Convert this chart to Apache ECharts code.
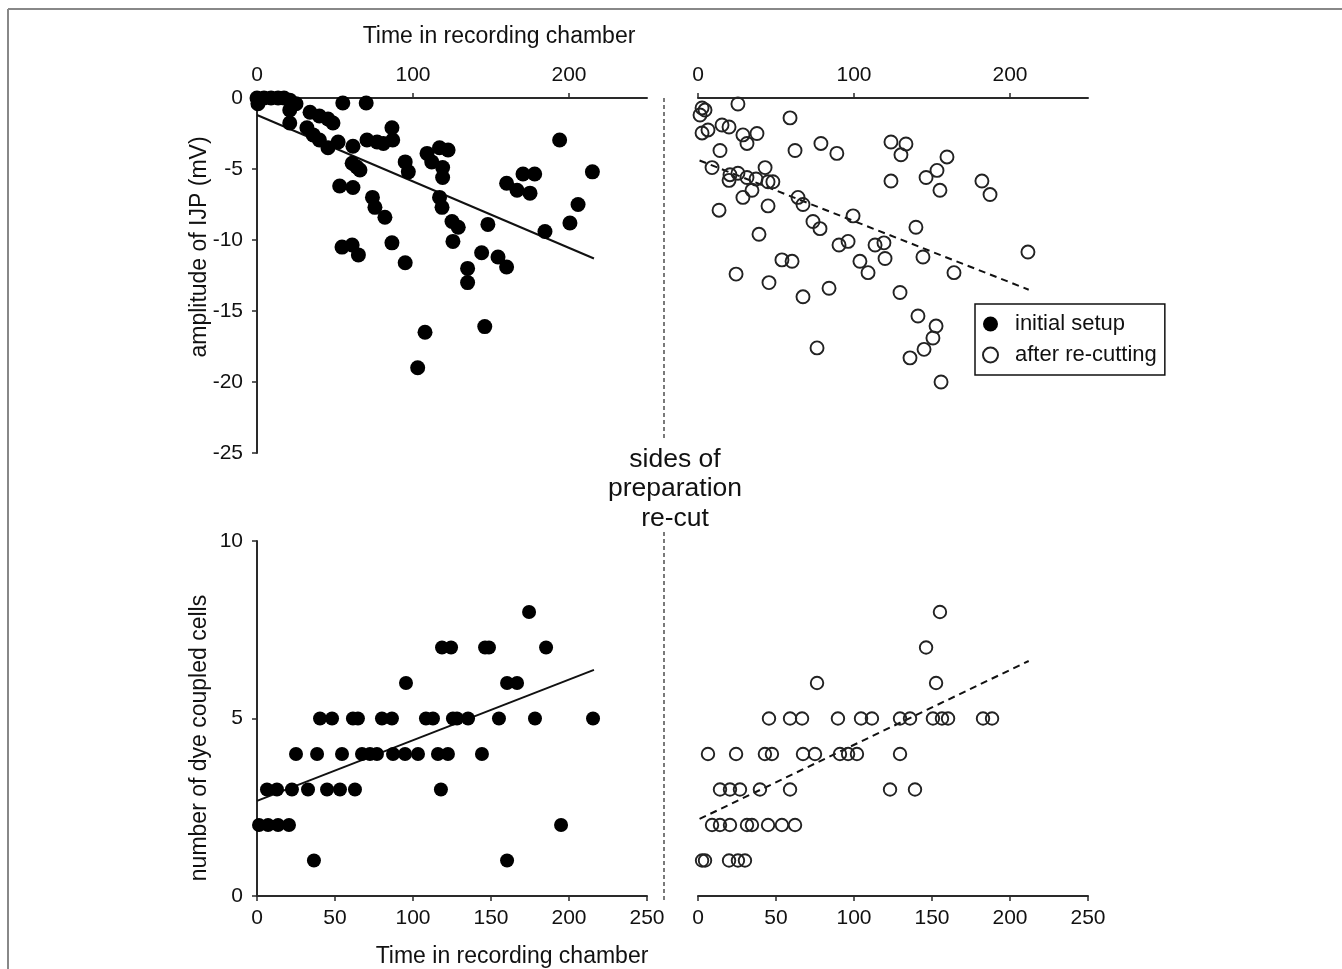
<!DOCTYPE html>
<html>
<head>
<meta charset="utf-8">
<script src="https://cdn.jsdelivr.net/npm/echarts@6/dist/echarts.min.js"></script>
<style>
html,body{margin:0;padding:0;background:#fff;}
#chart{width:1342px;height:969px;}
</style>
</head>
<body>
<div id="chart"></div>
<script>
// ---- data (time in recording chamber, value) ----
const seriesNames = ['initial setup', 'after re-cutting'];
const xTicksTop = [0, 100, 200];

const ijpInitial = [
  [0,0],[0.6,-0.4],[4.5,0],[9,0],[13.5,0],[17.3,0],[21,-0.15],[25,-0.4],[21,-0.85],[21,-1.76],
  [55,-0.35],[70,-0.35],[34,-1.0],[40,-1.27],[45.5,-1.48],[48.7,-1.76],[32,-2.1],[36,-2.6],[40,-2.96],[45.5,-3.5],
  [52,-3.1],[61.5,-3.4],[70.5,-2.96],[77,-3.1],[81,-3.2],[86.5,-2.1],[87,-2.96],[61,-4.6],[64,-4.86],[66,-5.07],
  [53,-6.2],[61.5,-6.3],[74,-7.0],[75.6,-7.7],[82,-8.4],[86.5,-10.2],[54.5,-10.5],[61,-10.35],[65,-11.05],[95,-4.5],
  [97,-5.2],[95,-11.6],[109,-3.9],[112,-4.5],[117,-3.5],[122.5,-3.66],[119,-4.9],[119,-5.6],[117,-7.0],[118.6,-7.7],
  [125,-8.7],[129,-9.1],[125.6,-10.1],[148,-8.9],[144,-10.9],[154.5,-11.2],[160,-11.9],[135,-12.0],[135,-13.0],[194,-2.96],
  [215,-5.2],[160,-6.0],[166.7,-6.5],[170.5,-5.35],[178,-5.35],[175,-6.7],[184.6,-9.4],[200.6,-8.8],[205.8,-7.5],[107.7,-16.5],
  [103,-19.0],[146,-16.1]
];

const ijpRecut = [
  [4.5,-0.85],[1.3,-1.2],[2.6,-0.7],[25.6,-0.42],[59,-1.4],[2.6,-2.46],[6.4,-2.25],[15.4,-1.9],[19.9,-2.04],[28.8,-2.6],
  [31.4,-3.2],[37.8,-2.5],[14.1,-3.7],[62.2,-3.7],[78.8,-3.2],[89,-3.9],[9,-4.9],[20.5,-5.4],[25.6,-5.3],[19.9,-5.8],
  [31.4,-5.6],[37.2,-5.7],[43,-4.9],[44.9,-5.9],[48,-5.9],[34.6,-6.5],[28.8,-7.0],[44.9,-7.6],[13.5,-7.9],[64.1,-7.0],
  [67.3,-7.5],[73.7,-8.7],[78.2,-9.2],[99.4,-8.3],[90.4,-10.35],[96.2,-10.1],[39.1,-9.6],[53.8,-11.4],[60.3,-11.5],[103.8,-11.5],
  [109,-12.3],[113.5,-10.35],[24.4,-12.4],[45.5,-13.0],[67.3,-14.0],[84,-13.4],[123.7,-3.1],[133.3,-3.24],[130.1,-4.0],[159.6,-4.15],
  [123.7,-5.85],[146.2,-5.6],[153.2,-5.1],[155.1,-6.5],[182,-5.85],[187.2,-6.8],[139.7,-9.1],[119.2,-10.2],[119.9,-11.3],[144.2,-11.2],
  [164.1,-12.3],[211.5,-10.85],[129.5,-13.7],[141,-15.35],[152.6,-16.06],[150.6,-16.9],[144.9,-17.7],[135.9,-18.3],[155.8,-20.0],[76.3,-17.6]
];

const dyeInitial = [
  [36.5,1],[160.3,1],
  [1.3,2],[7.1,2],[13.5,2],[20.5,2],[194.9,2],
  [6.4,3],[12.8,3],[22.4,3],[32.7,3],[44.9,3],[53.2,3],[62.8,3],[117.9,3],
  [25,4],[38.5,4],[54.5,4],[67.3,4],[72.4,4],[76.9,4],[87.2,4],[94.9,4],[103.2,4],[116,4],[122.4,4],[144.2,4],
  [40.4,5],[48.1,5],[61.5,5],[64.7,5],[80.1,5],[86.5,5],[108.3,5],[112.8,5],[125.6,5],[128.2,5],[135.3,5],[155.1,5],[178.2,5],[215.4,5],
  [95.5,6],[160.3,6],[166.7,6],
  [118.6,7],[124.4,7],[146.2,7],[148.7,7],[185.3,7],
  [174.4,8]
];

const dyeRecut = [
  [2.6,1],[4.5,1],[19.9,1],[25.6,1],[30.1,1],
  [9,2],[14.1,2],[20.5,2],[31.4,2],[34.6,2],[44.9,2],[53.8,2],[62.2,2],
  [14.1,3],[20.5,3],[26.9,3],[39.7,3],[59,3],[123.1,3],[139.1,3],
  [6.4,4],[24.4,4],[42.9,4],[47.4,4],[67.3,4],[75,4],[91,4],[96.2,4],[101.9,4],[129.5,4],
  [45.5,5],[59,5],[66.7,5],[89.7,5],[104.5,5],[111.5,5],[129.5,5],[135.9,5],[150.6,5],[156.4,5],[160.3,5],[182.7,5],[188.5,5],
  [76.3,6],[152.6,6],
  [146.2,7],
  [155.1,8]
];

// regression lines (end points)
const ijpInitialFit = [[0,-1.2],[216,-11.3]];
const ijpRecutFit = [[1,-4.4],[212,-13.5]];
const dyeInitialFit = [[0,2.68],[216,6.37]];
const dyeRecutFit = [[1,2.17],[212,6.62]];

// ---- chart ----
const FONT = "'Liberation Sans', Arial, Helvetica, sans-serif";
const INK = '#111';
const AXIS = '#2a2a2a';

const chart = echarts.init(document.getElementById('chart'), null, {renderer: 'canvas'});

function xAxis(gridIndex, position, interval, custom) {
  const ax = {
    type: 'value', gridIndex, position, min: 0, max: 250, interval,
    axisLine: {show: true, onZero: false, lineStyle: {color: AXIS, width: 2}},
    axisTick: {show: true, length: 5, inside: false, lineStyle: {color: AXIS, width: 1.5}},
    axisLabel: {color: INK, fontSize: 21, fontFamily: FONT, margin: 12},
    splitLine: {show: false}
  };
  if (custom) {
    ax.axisTick.customValues = custom;
    ax.axisLabel.customValues = custom;
  }
  return ax;
}
function yAxis(gridIndex, min, max, interval, show) {
  return {
    type: 'value', gridIndex, min, max, interval, show,
    axisLine: {show: true, onZero: false, lineStyle: {color: AXIS, width: 2}},
    axisTick: {show: true, length: 5, lineStyle: {color: AXIS, width: 1.5}},
    axisLabel: {color: INK, fontSize: 21, fontFamily: FONT, margin: 14},
    splitLine: {show: false}
  };
}

const filled = {color: '#000', opacity: 1};
const hollow = {color: 'rgba(255,255,255,0)', borderColor: '#222', borderWidth: 1.9, opacity: 1};

function fit(data, xi, yi, dashed) {
  return {
    type: 'line', xAxisIndex: xi, yAxisIndex: yi, data, symbol: 'none', silent: true,
    lineStyle: {color: '#111', width: 2, type: dashed ? [7, 5] : 'solid'}, z: 3
  };
}

const option = {
  animation: false,
  backgroundColor: '#fff',
  grid: [
    {left: 257, top: 98, width: 390, height: 355},
    {left: 698, top: 98, width: 390, height: 355},
    {left: 257, top: 541, width: 390, height: 355},
    {left: 698, top: 541, width: 390, height: 355}
  ],
  xAxis: [
    xAxis(0, 'top', 100, xTicksTop),
    xAxis(1, 'top', 100, xTicksTop),
    xAxis(2, 'bottom', 50),
    xAxis(3, 'bottom', 50)
  ],
  yAxis: [
    yAxis(0, -25, 0, 5, true),
    yAxis(1, -25, 0, 5, false),
    yAxis(2, 0, 10, 5, true),
    yAxis(3, 0, 10, 5, false)
  ],
  legend: {
    data: seriesNames,
    orient: 'vertical',
    left: 975, top: 304,
    borderColor: '#111', borderWidth: 1.5, borderRadius: 0,
    padding: [9, 8, 9, 7],
    itemWidth: 15, itemHeight: 15, itemGap: 9,
    selectedMode: false,
    textStyle: {fontSize: 22, fontFamily: FONT, color: INK, padding: [0, 0, 0, 12]}
  },
  series: [
    {name: seriesNames[0], type: 'scatter', xAxisIndex: 0, yAxisIndex: 0, data: ijpInitial, symbolSize: 15, itemStyle: filled, z: 4},
    {name: seriesNames[1], type: 'scatter', xAxisIndex: 1, yAxisIndex: 1, data: ijpRecut, symbolSize: 13, itemStyle: hollow, z: 4},
    {name: seriesNames[0], type: 'scatter', xAxisIndex: 2, yAxisIndex: 2, data: dyeInitial, symbolSize: 14, itemStyle: filled, z: 4},
    {name: seriesNames[1], type: 'scatter', xAxisIndex: 3, yAxisIndex: 3, data: dyeRecut, symbolSize: 12.5, itemStyle: hollow, z: 4},
    fit(ijpInitialFit, 0, 0, false),
    fit(ijpRecutFit, 1, 1, true),
    fit(dyeInitialFit, 2, 2, false),
    fit(dyeRecutFit, 3, 3, true)
  ],
  graphic: [
    {type: 'line', silent: true, shape: {x1: 8, y1: 9, x2: 1342, y2: 9}, style: {stroke: '#888', lineWidth: 2}},
    {type: 'line', silent: true, shape: {x1: 8, y1: 9, x2: 8, y2: 969}, style: {stroke: '#888', lineWidth: 2}},
    {type: 'line', silent: true, shape: {x1: 664, y1: 98, x2: 664, y2: 440}, style: {stroke: '#333', lineWidth: 1.3, lineDash: [4, 3]}},
    {type: 'line', silent: true, shape: {x1: 664, y1: 532, x2: 664, y2: 900}, style: {stroke: '#333', lineWidth: 1.3, lineDash: [4, 3]}},
    {type: 'text', silent: true, x: 499, y: 37, style: {text: 'Time in recording chamber', fill: INK, fontSize: 23, fontFamily: FONT, align: 'center', verticalAlign: 'middle'}},
    {type: 'text', silent: true, x: 512, y: 957, style: {text: 'Time in recording chamber', fill: INK, fontSize: 23, fontFamily: FONT, align: 'center', verticalAlign: 'middle'}},
    {type: 'text', silent: true, x: 200, y: 247, rotation: Math.PI / 2, style: {text: 'amplitude of IJP (mV)', fill: INK, fontSize: 23, fontFamily: FONT, align: 'center', verticalAlign: 'middle'}},
    {type: 'text', silent: true, x: 200, y: 738, rotation: Math.PI / 2, style: {text: 'number of dye coupled cells', fill: INK, fontSize: 23, fontFamily: FONT, align: 'center', verticalAlign: 'middle'}},
    {type: 'text', silent: true, x: 675, y: 489, style: {text: 'sides of\npreparation\nre-cut', fill: INK, fontSize: 26.5, lineHeight: 29.5, fontFamily: FONT, align: 'center', verticalAlign: 'middle'}}
  ]
};
chart.setOption(option);
</script>
</body>
</html>
